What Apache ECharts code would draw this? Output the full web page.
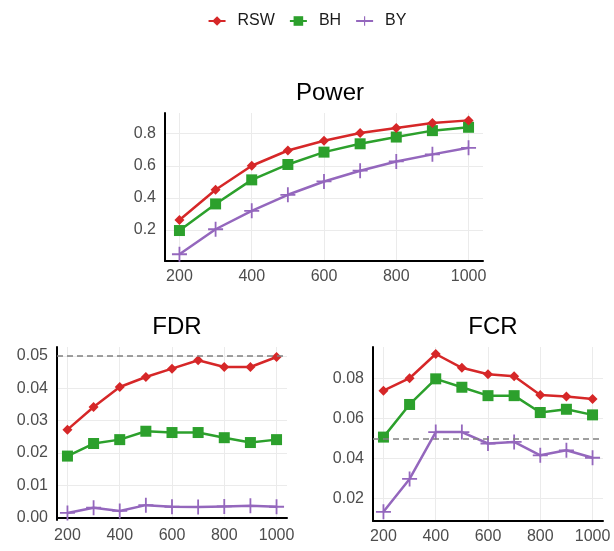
<!DOCTYPE html>
<html>
<head>
<meta charset="utf-8">
<script src="https://cdn.jsdelivr.net/npm/echarts@6/dist/echarts.min.js"></script>
<style>
  html, body { margin: 0; padding: 0; background: #fff; }
  #chart { width: 614px; height: 551px; }
</style>
</head>
<body>
<div id="chart"></div>
<script>
// sample sizes on x
const sizes = [200, 300, 400, 500, 600, 700, 800, 900, 1000];
const methods = ['RSW', 'BH', 'BY'];

// Power panel
const powerRSW = [0.262, 0.450, 0.600, 0.695, 0.756, 0.804, 0.835, 0.867, 0.883];
const powerBH  = [0.196, 0.362, 0.512, 0.608, 0.685, 0.737, 0.779, 0.819, 0.840];
const powerBY  = [0.048, 0.204, 0.319, 0.419, 0.502, 0.569, 0.627, 0.671, 0.712];

// FDR panel
const fdrRSW = [0.0272, 0.0342, 0.0404, 0.0435, 0.0461, 0.0487, 0.0466, 0.0466, 0.0497];
const fdrBH  = [0.0190, 0.0229, 0.0241, 0.0267, 0.0263, 0.0263, 0.0247, 0.0232, 0.0241];
const fdrBY  = [0.0014, 0.0030, 0.0020, 0.0038, 0.0033, 0.0032, 0.0034, 0.0036, 0.0033];

// FCR panel
const fcrRSW = [0.0738, 0.0800, 0.0921, 0.0852, 0.0820, 0.0810, 0.0716, 0.0709, 0.0696];
const fcrBH  = [0.0506, 0.0669, 0.0797, 0.0755, 0.0713, 0.0713, 0.0629, 0.0645, 0.0617];
const fcrBY  = [0.0133, 0.0297, 0.0531, 0.0531, 0.0474, 0.0482, 0.0415, 0.0440, 0.0403];

const nominalLevel = 0.05;

const colors = { RSW: '#d62728', BH: '#2ca02c', BY: '#9467bd' };
const symbols = {
  RSW: 'diamond',
  BH: 'rect',
  BY: 'path://M4.4,0h1.2v10h-1.2z M0,4.4h10v1.2h-10z'
};
const symbolSizes = { RSW: 10, BH: 11, BY: 15 };

const font = '"Liberation Sans", Arial, sans-serif';
const labelColor = '#4d4d4d';
const gridColor = '#ebebeb';

function pairs(ys) {
  return sizes.map((x, i) => [x, ys[i]]);
}

function xAxisFor(gridIndex) {
  return {
    type: 'value', gridIndex,
    min: 160, max: 1040,
    minInterval: 200, maxInterval: 200,
    axisLine: { show: true, lineStyle: { color: '#000', width: 2 } },
    axisTick: { show: false },
    axisLabel: {
      color: labelColor, fontSize: 16, fontFamily: font, margin: 8,
      showMinLabel: false, showMaxLabel: false,
      formatter: (v) => String(v)
    },
    splitLine: { show: true, showMinLine: false, showMaxLine: false,
      lineStyle: { color: gridColor, width: 1 } }
  };
}

function yAxisFor(gridIndex, min, max, step, digits) {
  return {
    type: 'value', gridIndex,
    min, max,
    minInterval: step, maxInterval: step,
    axisLine: { show: true, lineStyle: { color: '#000', width: 2 } },
    axisTick: { show: false },
    axisLabel: {
      color: labelColor, fontSize: 16, fontFamily: font, margin: 9,
      showMinLabel: false, showMaxLabel: false,
      formatter: (v) => v.toFixed(digits)
    },
    splitLine: { show: true, showMinLine: false, showMaxLine: false,
      lineStyle: { color: gridColor, width: 1 } }
  };
}

function lineSeries(name, data, idx, withRef) {
  const s = {
    name, type: 'line',
    xAxisIndex: idx, yAxisIndex: idx,
    data: pairs(data),
    symbol: symbols[name],
    symbolSize: symbolSizes[name],
    showAllSymbol: true,
    lineStyle: { color: colors[name], width: 2.5 },
    itemStyle: { color: colors[name] },
    z: 3
  };
  if (withRef) {
    s.markLine = {
      silent: true,
      symbol: 'none',
      label: { show: false },
      lineStyle: { color: '#808080', type: [6, 4], width: 1.5 },
      data: [{ yAxis: nominalLevel }]
    };
  }
  return s;
}

const chart = echarts.init(document.getElementById('chart'));

const option = {
  animation: false,
  backgroundColor: '#fff',
  legend: {
    data: methods,
    top: 8,
    left: 'center',
    itemWidth: 17,
    itemHeight: 12,
    itemGap: 14,
    textStyle: { fontSize: 16, fontFamily: font, color: '#1a1a1a', padding: [0, 0, 0, 7] }
  },
  title: [
    { text: 'Power', left: 325, top: 76, textAlign: 'center',
      textStyle: { fontSize: 24, fontWeight: 'normal', fontFamily: font, color: '#000' } },
    { text: 'FDR', left: 172, top: 310, textAlign: 'center',
      textStyle: { fontSize: 24, fontWeight: 'normal', fontFamily: font, color: '#000' } },
    { text: 'FCR', left: 488, top: 310, textAlign: 'center',
      textStyle: { fontSize: 24, fontWeight: 'normal', fontFamily: font, color: '#000' } }
  ],
  grid: [
    { left: 165, top: 113, width: 318, height: 148 },
    { left: 57, top: 347, width: 230, height: 173 },
    { left: 373, top: 347, width: 230, height: 174 }
  ],
  xAxis: [xAxisFor(0), xAxisFor(1), xAxisFor(2)],
  yAxis: [
    yAxisFor(0, 0.006, 0.929, 0.2, 1),
    yAxisFor(1, -0.0008, 0.0528, 0.01, 2),
    yAxisFor(2, 0.0087, 0.0956, 0.02, 2)
  ],
  series: [
    lineSeries('BY', powerBY, 0),
    lineSeries('BH', powerBH, 0),
    lineSeries('RSW', powerRSW, 0),
    lineSeries('BY', fdrBY, 1),
    lineSeries('BH', fdrBH, 1),
    lineSeries('RSW', fdrRSW, 1, true),
    lineSeries('BY', fcrBY, 2),
    lineSeries('BH', fcrBH, 2),
    lineSeries('RSW', fcrRSW, 2, true)
  ]
};

chart.setOption(option);
</script>
</body>
</html>
